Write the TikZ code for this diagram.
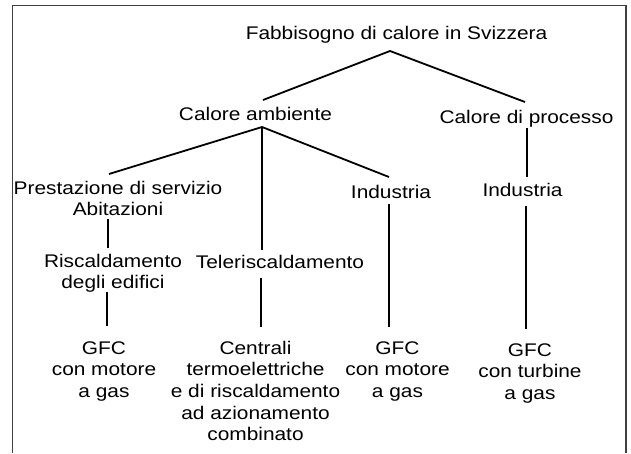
\documentclass[tikz,border=0pt]{standalone}
\usepackage{fontspec}
\setmainfont{Liberation Sans}[FakeStretch=1.14]
\usetikzlibrary{calc}
\begin{document}
\begin{tikzpicture}[x=1pt,y=-1pt,
  lbl/.style={inner sep=0pt,anchor=base,align=center,font=\fontsize{18.3pt}{21.7pt}\selectfont},
  branch/.style={line width=1.8pt,black},
  frame/.style={line width=1.2pt,black!75}]
\useasboundingbox (0,0) rectangle (631,453);
\draw[frame] (12.5,453) -- (12.5,5.5) -- (626,5.5) -- (626,453);
% multi-line nodes are placed by the baseline of their last line
\node[lbl] (title) at (396.5,39) {Fabbisogno di calore in Svizzera};
\node[lbl] (amb) at (255.5,120) {Calore ambiente};
\node[lbl] (proc) at (526.5,123) {Calore di processo};
\node[lbl] (prest) at (118,215.7) {Prestazione di servizio\\Abitazioni};
\node[lbl] (ind1) at (391,198) {Industria};
\node[lbl] (ind2) at (522.5,196) {Industria};
\node[lbl] (risc) at (113,288.7) {Riscaldamento\\degli edifici};
\node[lbl] (tele) at (280,268) {Teleriscaldamento};
\node[lbl] (gfc1) at (104,397.4) {GFC\\con motore\\a gas};
\node[lbl] (cent) at (255.5,440.8) {Centrali\\termoelettriche\\e di riscaldamento\\ad azionamento\\combinato};
\node[lbl] (gfc2) at (397.5,397.4) {GFC\\con motore\\a gas};
\node[lbl] (gfc3) at (530,399.4) {GFC\\con turbine\\a gas};
\draw[branch] ($(amb.base)+(7.5,-20)$) -- ($(title.base)+(-6.5,12)$) -- ($(proc.base)+(-1.5,-21)$);
\draw[branch] ($(prest.base)+(-9,-41.7)$) -- ($(amb.base)+(6.5,7)$) -- ($(ind1.base)+(-2,-21)$);
\draw[branch] ($(amb.base)+(6.5,7)$) -- ($(tele.base)+(-18,-18)$);
\draw[branch] ($(tele.base)+(-19,10)$) -- ($(cent.base)+(5.5,-113.8)$);
\draw[branch] ($(proc.base)+(0.5,5)$) -- ($(ind2.base)+(4.5,-19)$);
\draw[branch] ($(ind2.base)+(3.5,10)$) -- ($(gfc3.base)+(-4,-70.4)$);
\draw[branch] ($(ind1.base)+(-2,6)$) -- ($(gfc2.base)+(-8.5,-70.4)$);
\draw[branch] ($(prest.base)+(-10,3.3)$) -- ($(risc.base)+(-5,-40.7)$);
\draw[branch] ($(risc.base)+(-6,3.3)$) -- ($(gfc1.base)+(3,-71.4)$);
\end{tikzpicture}
\end{document}
